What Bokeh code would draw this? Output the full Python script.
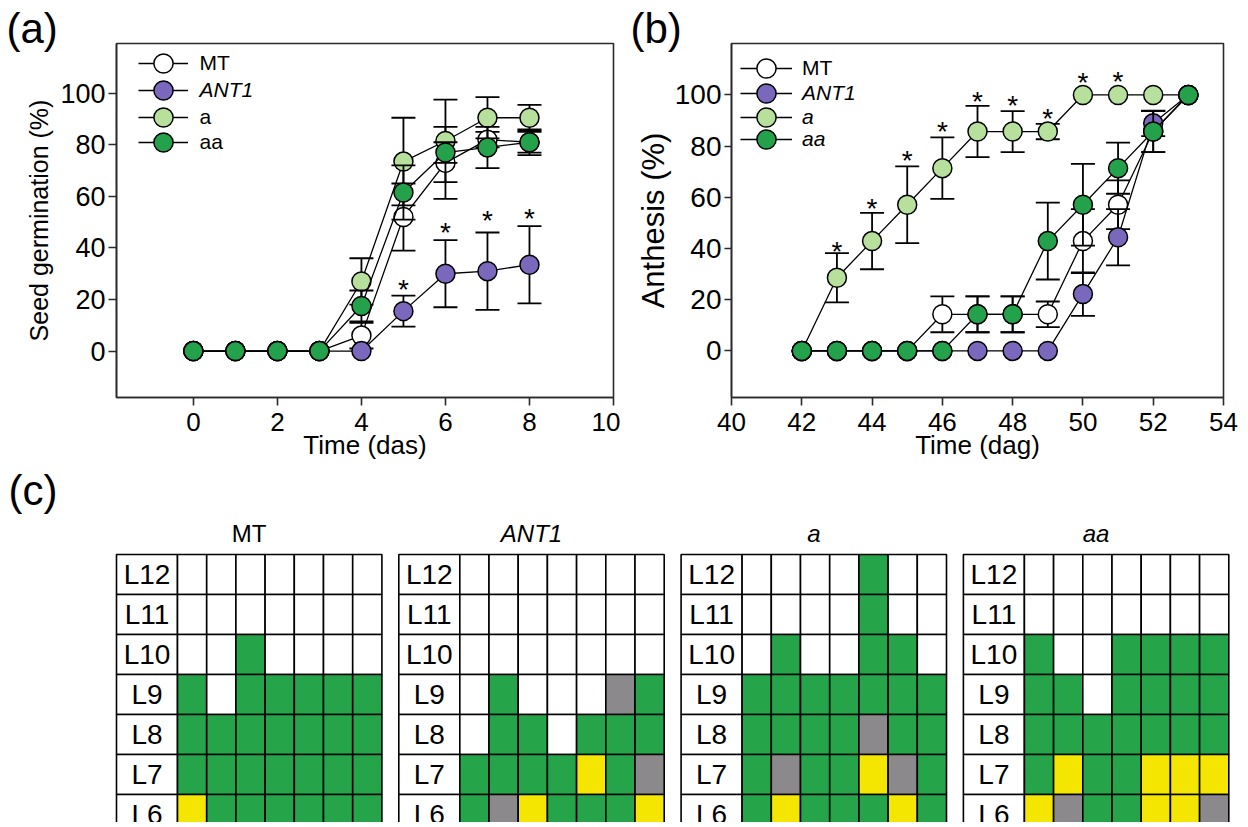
import numpy as np
from bokeh.plotting import figure
from bokeh.models import Range1d, Title, Legend, LegendItem, FixedTicker, ColumnDataSource
from bokeh.layouts import column, row
from bokeh.embed import file_html
from bokeh.resources import INLINE
from bokeh.core.properties import value

FONT = "Liberation Sans"

# ---------------- data: panel (a) seed germination ----------------
days_a = [0, 1, 2, 3, 4, 5, 6, 7, 8]
mt_a = [0, 0, 0, 0, 6, 52, 73, 82, 81]
mt_a_err = [0, 0, 0, 0, 5, 13, 14, 3, 4]
ant1_a = [0, 0, 0, 0, 0, 15.5, 30, 31, 33.5]
ant1_a_err = [0, 0, 0, 0, 0, 6, 13, 15, 15]
a_a = [0, 0, 0, 0, 27, 73.5, 81.5, 90.5, 90.5]
a_a_err = [0, 0, 0, 0, 9, 17, 16, 8, 5]
aa_a = [0, 0, 0, 0, 17.5, 61.5, 77, 79, 81]
aa_a_err = [0, 0, 0, 0, 6, 10.5, 4, 8, 5]
star_a_x = [5, 6, 7, 8]
star_a_y = [25, 47, 52, 52.4]
xticks_a = [0, 2, 4, 6, 8, 10]

# ---------------- data: panel (b) anthesis ----------------
days_b = [42, 43, 44, 45, 46, 47, 48, 49, 50, 51, 52, 53]
mt_b = [0, 0, 0, 0, 14.3, 14.3, 14.3, 14.3, 42.9, 57.1, 85.7, 100]
mt_b_err = [0, 0, 0, 0, 7, 7, 7, 5, 12.5, 9.5, 8, 0]
ant1_b = [0, 0, 0, 0, 0, 0, 0, 0, 22.2, 44.4, 88.9, 100]
ant1_b_err = [0, 0, 0, 0, 0, 0, 0, 0, 8.5, 11, 5, 0]
a_b = [0, 28.6, 42.9, 57.1, 71.4, 85.7, 85.7, 85.7, 100, 100, 100, 100]
a_b_err = [0, 9.6, 11, 15, 12, 10, 8, 3, 0, 0, 0, 0]
aa_b = [0, 0, 0, 0, 0, 14.3, 14.3, 42.9, 57.1, 71.4, 85.7, 100]
aa_b_err = [0, 0, 0, 0, 0, 7, 7, 15, 16, 10, 8, 0]
star_b_x = [43, 44, 45, 46, 47, 48, 49, 50, 51]
star_b_y = [40, 57, 75.7, 86.8, 98.7, 97, 92, 106, 106.5]
xticks_b = [40, 42, 44, 46, 48, 50, 52, 54]
yticks = [0, 20, 40, 60, 80, 100]

series_names = ["MT", "ANT1", "a", "aa"]
series_fill = ["#ffffff", "#7a68bd", "#b6e09b", "#23a24b"]
legend_style_a = ["normal", "italic", "normal", "normal"]
legend_style_b = ["normal", "italic", "italic", "italic"]

# ---------------- data: panel (c) leaf grids ----------------
grid_titles = ["MT", "ANT1", "a", "aa"]
grid_title_style = ["normal", "italic", "italic", "italic"]
leaf_labels = ["L12", "L11", "L10", "L9", "L8", "L7", "L6"]
grid_mt = ["0000000", "0000000", "0010000", "1011111", "1111111", "1111111", "3111111"]
grid_ant1 = ["0000000", "0000000", "0000000", "0100021", "0110111", "1111312", "1231113"]
grid_a = ["0000100", "0000100", "0100110", "1111111", "1111211", "1211321", "1311131"]
grid_aa = ["0000000", "0000000", "1001111", "1101111", "1111111", "1311333", "3211332"]
cell_colors = {"0": "#ffffff", "1": "#25a44a", "2": "#8c898c", "3": "#f4e600"}

ROW_H = 470


def style_axes(p, xticks, ylab_size, ylab_title_size, ytick_out, ylab_standoff):
    p.xgrid.visible = False
    p.ygrid.visible = False
    p.outline_line_color = "#2a2a2a"
    p.outline_line_width = 1.6
    p.background_fill_color = "white"
    p.border_fill_color = "white"
    for ax in (p.xaxis[0], p.yaxis[0]):
        ax.axis_line_color = "#2a2a2a"
        ax.axis_line_width = 1.6
        ax.major_tick_line_color = "#2a2a2a"
        ax.major_tick_line_width = 1.6
        ax.minor_tick_line_color = None
        ax.major_tick_in = 0
        ax.major_label_text_font = FONT
        ax.major_label_text_color = "black"
        ax.axis_label_text_font = FONT
        ax.axis_label_text_font_style = "normal"
        ax.axis_label_text_color = "black"
    p.xaxis.ticker = FixedTicker(ticks=xticks)
    p.yaxis.ticker = FixedTicker(ticks=yticks)
    p.xaxis.major_tick_out = 8
    p.yaxis.major_tick_out = ytick_out
    p.xaxis.major_label_text_font_size = "26px"
    p.yaxis.major_label_text_font_size = ylab_size
    p.xaxis.major_label_standoff = 7
    p.yaxis.major_label_standoff = 3
    p.xaxis.axis_label_text_font_size = "26px"
    p.yaxis.axis_label_text_font_size = ylab_title_size
    p.xaxis.axis_label_standoff = -4
    p.yaxis.axis_label_standoff = ylab_standoff


def add_series(p, x, vals, errs, fill):
    x = np.array(x, float)
    v = np.array(vals, float)
    e = np.array(errs, float)
    m = e > 0
    src = ColumnDataSource(dict(x=x[m], lo=v[m] - e[m], hi=v[m] + e[m]))
    p.segment(x0="x", y0="lo", x1="x", y1="hi", source=src, line_color="black", line_width=1.8)
    p.scatter(x="x", y="hi", source=src, marker="dash", size=24, line_color="black", line_width=1.8)
    p.scatter(x="x", y="lo", source=src, marker="dash", size=24, line_color="black", line_width=1.8)
    lr = p.line(x, v, line_color="black", line_width=1.3)
    sr = p.scatter(x, v, size=19, fill_color=fill, line_color="black", line_width=1.5)
    return lr, sr


def add_legend(p, label, rends, loc, standoff, width, style):
    lg = Legend(items=[LegendItem(label=label, renderers=list(rends))], location=loc,
                glyph_width=width, glyph_height=48, label_height=20, spacing=0,
                padding=0, margin=0, label_standoff=standoff, label_text_font=FONT,
                label_text_font_size="21px", label_text_font_style=style,
                label_text_color="black", border_line_color=None, background_fill_alpha=0)
    p.add_layout(lg)


def panel_tag(p, text, offset):
    p.add_layout(Title(text=text, align="left", offset=offset, standoff=-16,
                       text_font=FONT, text_font_size="42px", text_font_style="normal",
                       text_color="black"), "above")


# ---------------- panel (a) ----------------
pa = figure(width=620, height=ROW_H, x_range=Range1d(-1.83, 10), y_range=Range1d(-18, 119.3),
            output_backend="svg", toolbar_location=None,
            min_border_left=116, min_border_right=7, min_border_top=39, min_border_bottom=ROW_H - 397)
style_axes(pa, xticks_a, "27px", "25px", 8, 4)
pa.xaxis.axis_label = "Time (das)"
pa.yaxis.axis_label = "Seed germination (%)"

rend_a = []
for vals, errs, fill in zip([mt_a, ant1_a, a_a, aa_a], [mt_a_err, ant1_a_err, a_a_err, aa_a_err], series_fill):
    rend_a.append(add_series(pa, days_a, vals, errs, fill))
pa.text(x=star_a_x, y=star_a_y, text=["*"] * len(star_a_x), text_font=value(FONT),
        text_font_size="28px", text_align="center", text_baseline="middle", y_offset=3, text_color="black")

for i, vy in enumerate([310, 283, 256, 231]):
    add_legend(pa, series_names[i], rend_a[i], (21.5, vy), 12, 50, legend_style_a[i])
panel_tag(pa, "(a)", -110)

# ---------------- panel (b) ----------------
pb = figure(width=620, height=ROW_H, x_range=Range1d(40, 54), y_range=Range1d(-18.2, 120.1),
            output_backend="svg", toolbar_location=None,
            min_border_left=111, min_border_right=17, min_border_top=43, min_border_bottom=ROW_H - 397)
style_axes(pb, xticks_b, "28px", "31px", 7, 1)
pb.xaxis.axis_label = "Time (dag)"
pb.yaxis.axis_label = "Anthesis (%)"

rend_b = []
for vals, errs, fill in zip([mt_b, ant1_b, a_b, aa_b], [mt_b_err, ant1_b_err, a_b_err, aa_b_err], series_fill):
    rend_b.append(add_series(pb, days_b, vals, errs, fill))
pb.text(x=star_b_x, y=star_b_y, text=["*"] * len(star_b_x), text_font=value(FONT),
        text_font_size="28px", text_align="center", text_baseline="middle", y_offset=3, text_color="black")

for i, vy in enumerate([305, 280, 256, 234]):
    add_legend(pb, series_names[i], rend_b[i], (9, vy), 10, 52, legend_style_b[i])
panel_tag(pb, "(b)", -101)

# ---------------- panel (c) ----------------
PC_H = 352
pc = figure(width=1240, height=PC_H, x_range=Range1d(0, 1240), y_range=Range1d(PC_H, 0),
            output_backend="svg", toolbar_location=None,
            min_border_left=0, min_border_right=0, min_border_top=0, min_border_bottom=0)
pc.axis.visible = False
pc.xgrid.visible = False
pc.ygrid.visible = False
pc.outline_line_color = None

tbl_left0, tbl_pitch, lab_w, cell_w, tbl_top, row_h = 116.0, 282.3, 61.0, 29.2, 84.0, 40.0
L, R, T, B, C = [], [], [], [], []
lx, ly, lt = [], [], []
tx, ty = [], []
for t, g in enumerate([grid_mt, grid_ant1, grid_a, grid_aa]):
    left = tbl_left0 + t * tbl_pitch
    tx.append(left + (lab_w + 7 * cell_w) / 2)
    ty.append(tbl_top - 21)
    for r, rowstr in enumerate(g):
        top = tbl_top + r * row_h
        L.append(left); R.append(left + lab_w); T.append(top); B.append(top + row_h); C.append("#ffffff")
        lx.append(left + lab_w / 2); ly.append(top + row_h / 2); lt.append(leaf_labels[r])
        for c, ch in enumerate(rowstr):
            x0 = left + lab_w + c * cell_w
            L.append(x0); R.append(x0 + cell_w); T.append(top); B.append(top + row_h); C.append(cell_colors[ch])

pc.quad(left=L, right=R, top=T, bottom=B, fill_color=C, line_color="black", line_width=1.6)
pc.text(x=lx, y=ly, text=lt, text_font=value(FONT), text_font_size="28px",
        text_align="center", text_baseline="middle", text_color="black")
pc.text(x=tx, y=ty, text=grid_titles, text_font=value(FONT), text_font_size="24px",
        text_font_style=grid_title_style, text_align="center", text_baseline="middle", text_color="black")
pc.text(x=[8], y=[20], text=["(c)"], text_font=value(FONT), text_font_size="42px",
        text_align="left", text_baseline="middle", text_color="black")

layout = column(row(pa, pb), pc)
open("out.html", "w").write(file_html(layout, INLINE))
